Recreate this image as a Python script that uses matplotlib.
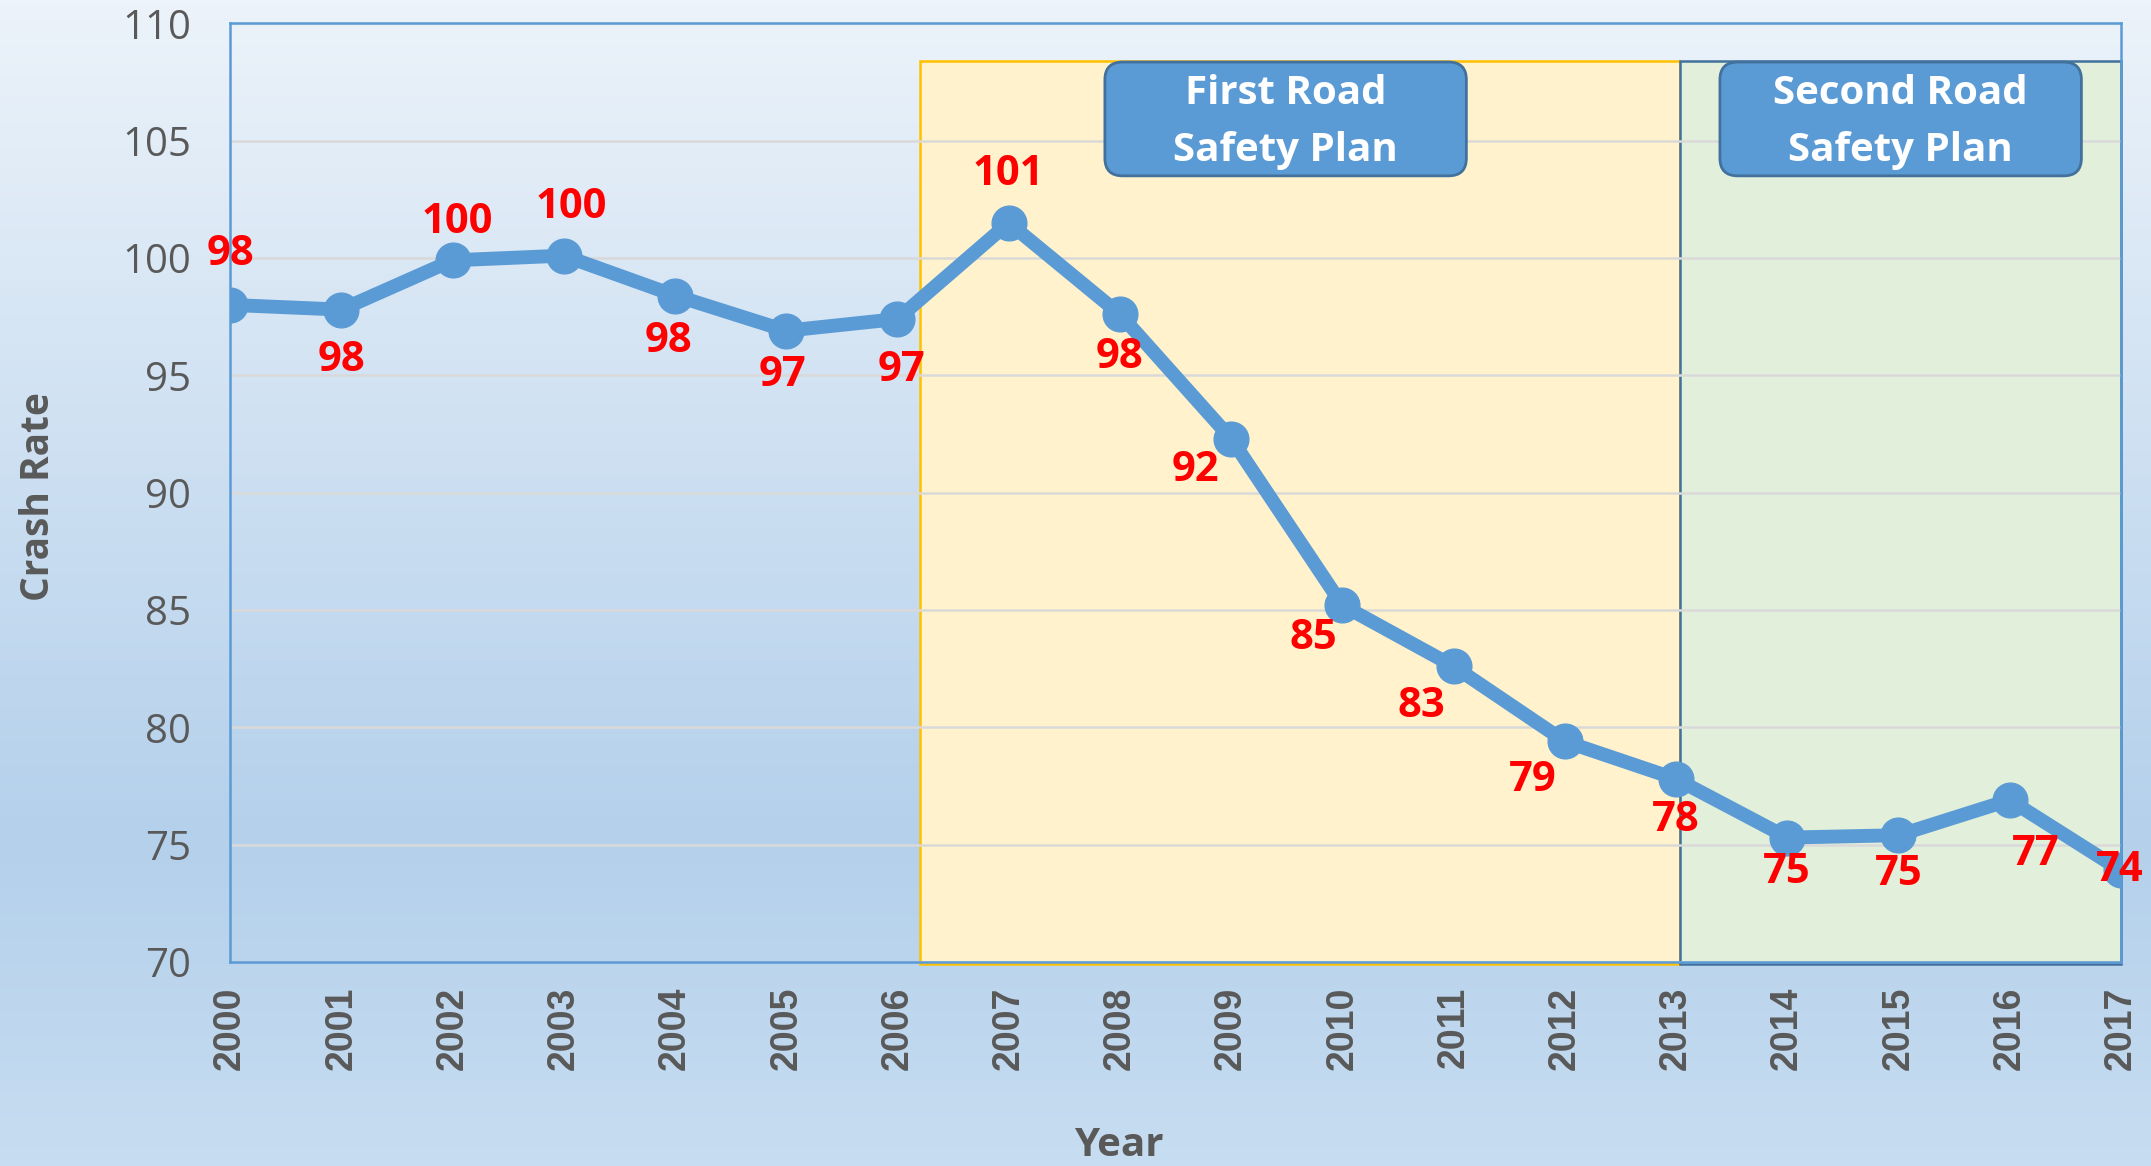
import matplotlib.pyplot as plt
import numpy as np
from matplotlib import font_manager
from matplotlib.patches import Rectangle, FancyBboxPatch
from matplotlib.colors import LinearSegmentedColormap

# data
years = list(range(2000, 2018))
crash_rate = [98.0, 97.8, 99.9, 100.1, 98.4, 96.9, 97.4, 101.5, 97.6, 92.3,
              85.2, 82.6, 79.4, 77.8, 75.3, 75.4, 76.9, 73.9]
value_labels = ['98', '98', '100', '100', '98', '97', '97', '101', '98', '92',
                '85', '83', '79', '78', '75', '75', '77', '74']
plan_names = ['First Road\nSafety Plan', 'Second Road\nSafety Plan']
plan_spans = [(2006.2, 2013.04), (2013.04, 2017.0)]

# label offsets in points (dx, dy)
label_offsets = [(0, 36), (0, -37), (3, 27), (5, 35), (-5, -33), (-3, -32),
                 (3, -37), (0, 35), (0, -31), (-26, -23), (-21, -24),
                 (-23, -29), (-23, -28), (0, -30), (0, -25), (0, -28),
                 (19, -39), (-1, 0)]

names = {f.name for f in font_manager.fontManager.ttflist}
narrow = next((n for n in ['Liberation Sans Narrow', 'Open Sans', 'Lato']
               if n in names), 'DejaVu Sans')

blue = '#5B9BD5'
gray = '#595959'

fig = plt.figure(figsize=(21.51, 11.66), dpi=100)

# gradient background
bg = fig.add_axes([0, 0, 1, 1], zorder=-10)
grad = np.linspace(0, 1, 256).reshape(-1, 1)
cmap = LinearSegmentedColormap.from_list(
    'bg', [(0, '#ECF3FA'), (0.72, '#B4D0EB'), (1, '#C7DDF1')])
bg.imshow(grad, aspect='auto', cmap=cmap, extent=[0, 1, 0, 1], origin='upper')
bg.axis('off')

ax = fig.add_axes([0.107, 0.175, 0.879, 0.805])
ax.patch.set_alpha(0)

# shaded plan periods
ax.add_patch(Rectangle((plan_spans[0][0], 69.9), plan_spans[0][1] - plan_spans[0][0], 38.5,
                       facecolor='#FFF2CC', edgecolor='#FFC000', lw=1.8, zorder=0.2, clip_on=False))
ax.add_patch(Rectangle((plan_spans[1][0], 69.9), plan_spans[1][1] - plan_spans[1][0], 38.5,
                       facecolor='#E2EFDA', edgecolor='#41719C', lw=1.8, zorder=0.2, clip_on=False))

# plan boxes
box_w, box_h = 3.25, 4.85
box_centers = [2009.49, 2015.02]
for name, cx in zip(plan_names, box_centers):
    ax.add_patch(FancyBboxPatch((cx - box_w / 2, 103.5), box_w, box_h,
                                boxstyle='round,pad=0,rounding_size=0.16',
                                mutation_aspect=4.7, facecolor=blue,
                                edgecolor='#41719C', lw=2, zorder=3))
    ax.text(cx, 105.8, name, ha='center', va='center', color='white',
            fontsize=29, fontweight='bold', family=narrow, zorder=4,
            linespacing=1.58)

ax.plot(years, crash_rate, color=blue, lw=10, marker='o', markersize=25, zorder=5)

for x, y, t, (dx, dy) in zip(years, crash_rate, value_labels, label_offsets):
    ax.annotate(t, (x, y), xytext=(dx, dy), textcoords='offset points',
                ha='center', va='center', color='#FF0000', fontsize=30,
                fontweight='bold', family=narrow, zorder=6, annotation_clip=False)

ax.set_xlim(2000, 2017)
ax.set_ylim(70, 110)
ax.set_yticks(range(70, 111, 5))
ax.set_xticks(years)
ax.set_xticklabels([str(y) for y in years], rotation=90, fontsize=27,
                   fontweight='bold', color=gray,
                   family=['Liberation Sans', 'DejaVu Sans'])
ax.set_yticklabels([str(v) for v in range(70, 111, 5)], fontsize=29,
                   color=gray, family=narrow)
ax.tick_params(axis='x', length=0, pad=18)
ax.tick_params(axis='y', length=0, pad=28)
ax.set_axisbelow(True)
ax.grid(axis='y', color='#D9D9D9', lw=1.8)
for s in ax.spines.values():
    s.set_color(blue)
    s.set_linewidth(1.8)

fig.text(0.0178, 0.574, 'Crash Rate', rotation=90, ha='center', va='center',
         fontsize=28, fontweight='bold', color=gray, family=narrow)
fig.text(0.520, 0.018, 'Year', ha='center', va='center',
         fontsize=29, fontweight='bold', color=gray, family=narrow)

fig.savefig('out.png', dpi=100)
